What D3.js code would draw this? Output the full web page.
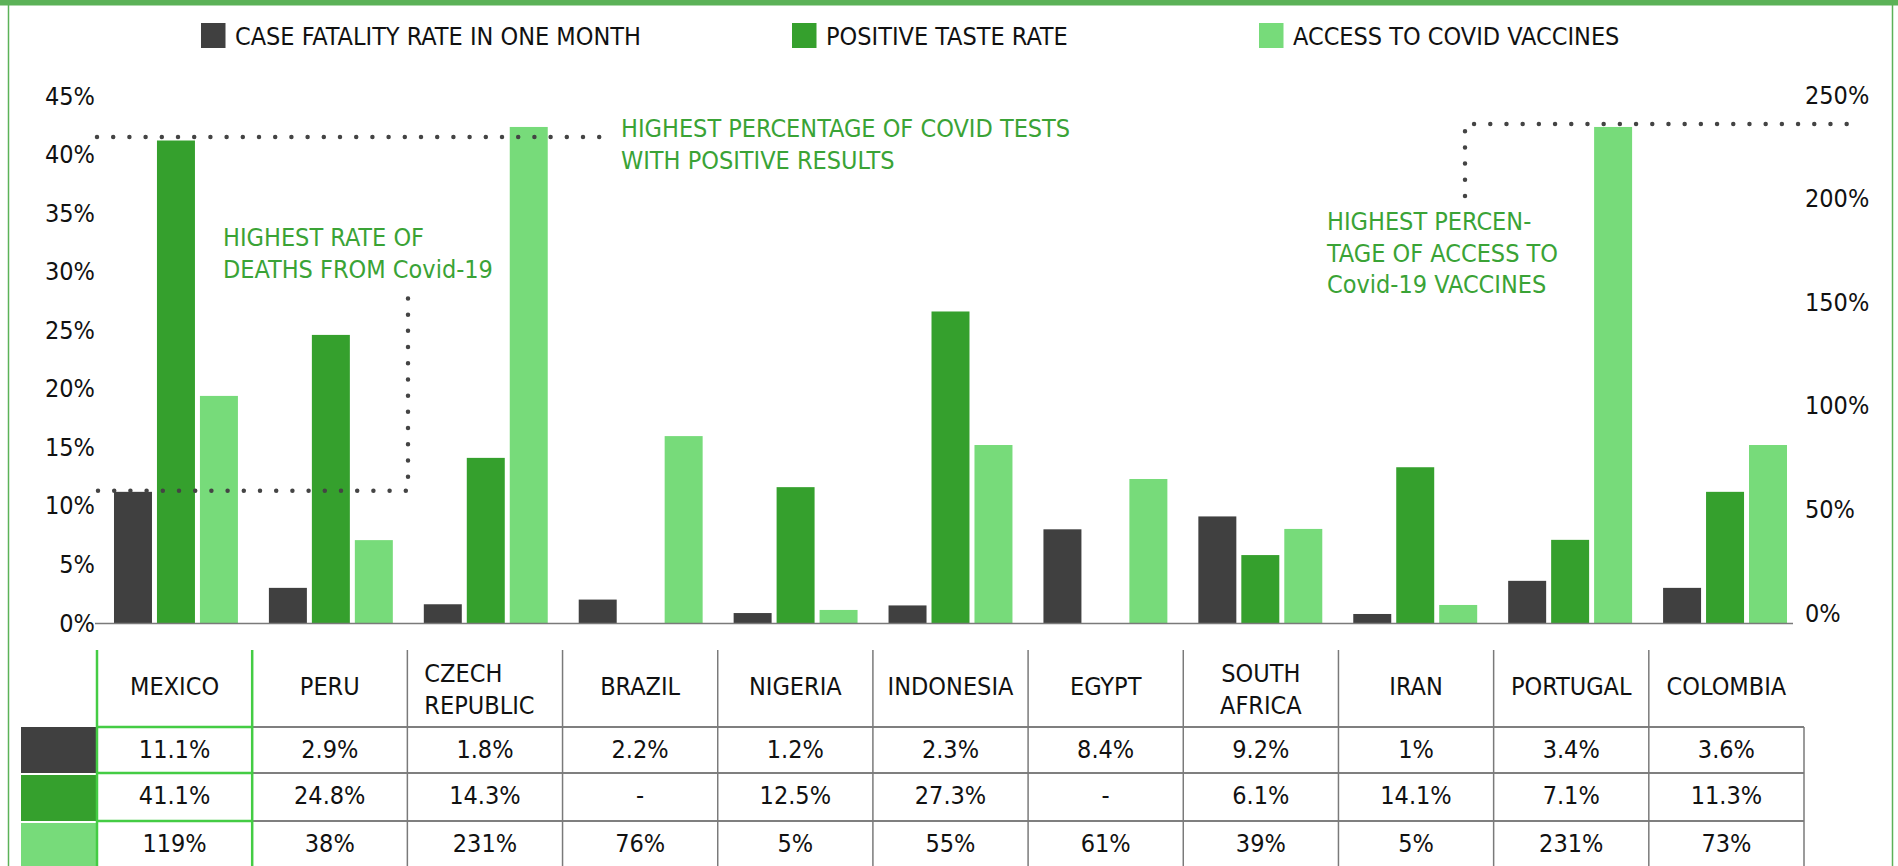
<!DOCTYPE html>
<html>
<head>
<meta charset="utf-8">
<script src="https://cdn.jsdelivr.net/npm/d3@7"></script>
<style>
  body { margin: 0; background: #fff; }
  svg { display: block; }
  text { font-family: 'DejaVu Sans Condensed', 'DejaVu Sans', sans-serif; font-stretch: condensed; fill: #111; }
</style>
</head>
<body>
<script>
// ---- data ----
const countries = ['MEXICO', 'PERU', 'CZECH REPUBLIC', 'BRAZIL', 'NIGERIA', 'INDONESIA', 'EGYPT', 'SOUTH AFRICA', 'IRAN', 'PORTUGAL', 'COLOMBIA']
const seriesNames = ['CASE FATALITY RATE IN ONE MONTH', 'POSITIVE TASTE RATE', 'ACCESS TO COVID VACCINES']

// bar heights (left axis for first two, right axis for vaccines)
const fatality = [11.2, 3.0, 1.6, 2.0, 0.85, 1.5, 8.0, 9.1, 0.77, 3.6, 3.0]
const positive = [41.2, 24.6, 14.1, 0, 11.6, 26.6, 0, 5.8, 13.3, 7.1, 11.2]
const vaccines = [109.6, 40, 239.4, 90.2, 6.3, 85.9, 69.5, 45.4, 8.7, 239.4, 85.9]

// table labels
const fatalityLabels = ['11.1%', '2.9%', '1.8%', '2.2%', '1.2%', '2.3%', '8.4%', '9.2%', '1%', '3.4%', '3.6%']
const positiveLabels = ['41.1%', '24.8%', '14.3%', '-', '12.5%', '27.3%', '-', '6.1%', '14.1%', '7.1%', '11.3%']
const vaccineLabels = ['119%', '38%', '231%', '76%', '5%', '55%', '61%', '39%', '5%', '231%', '73%']

const leftTicks = [0, 5, 10, 15, 20, 25, 30, 35, 40, 45]
const rightTicks = [0, 50, 100, 150, 200, 250]

const notePositive = ['HIGHEST PERCENTAGE OF COVID TESTS', 'WITH POSITIVE RESULTS']
const noteDeaths = ['HIGHEST RATE OF', 'DEATHS FROM Covid-19']
const noteVaccine = ['HIGHEST PERCEN-', 'TAGE OF ACCESS TO', 'Covid-19 VACCINES']

// ---- layout ----
const fullWidth = 1898
const fullHeight = 866
const baseY = 623
const colors = ['#404040', '#35a02d', '#77db7a']
const noteColor = '#3aa336'
const frameColor = '#5cb258'
const highlight = '#44cc44'
const fontSize = 25

const svg = d3.select('body')
  .append('svg')
  .attr('width', fullWidth)
  .attr('height', fullHeight)

// frame
svg.append('rect').attr('x', 0).attr('y', 0).attr('width', fullWidth).attr('height', 5.5).attr('fill', frameColor)
svg.append('line').attr('x1', 8.5).attr('x2', 8.5).attr('y1', 0).attr('y2', fullHeight)
  .attr('stroke', frameColor).attr('stroke-width', 1.5)
svg.append('line').attr('x1', 1892.5).attr('x2', 1892.5).attr('y1', 0).attr('y2', fullHeight)
  .attr('stroke', frameColor).attr('stroke-width', 1.5)

// scales
const x0 = d3.scaleBand()
  .domain(countries)
  .range([98.5, 1802.5])
  .paddingInner(0.2)
  .paddingOuter(0.1)

const x1 = d3.scaleBand()
  .domain([0, 1, 2])
  .range([0, x0.bandwidth()])
  .paddingInner(0.116)

const yLeft = d3.scaleLinear().domain([0, 45]).range([baseY, 96])
const yRight = d3.scaleLinear().domain([0, 250]).range([baseY, 105])

// legend
const legendX = [201, 792, 1259]
const legend = svg.selectAll('.legend')
  .data(seriesNames)
  .enter().append('g')
  .attr('class', 'legend')
  .attr('transform', (d, i) => `translate(${legendX[i]},23)`)
legend.append('rect')
  .attr('width', 24.5)
  .attr('height', 25)
  .attr('fill', (d, i) => colors[i])
legend.append('text')
  .attr('x', 34)
  .attr('y', 22)
  .attr('font-size', fontSize)
  .text(d => d)

// axes
const leftAxis = svg.append('g')
  .attr('transform', 'translate(95,0)')
  .call(d3.axisLeft(yLeft).tickValues(leftTicks).tickFormat(d => d + '%').tickSize(0).tickPadding(0))
leftAxis.select('.domain').remove()
leftAxis.selectAll('text').attr('font-size', fontSize).attr('font-family', null).attr('fill', '#111')

const rightAxis = svg.append('g')
  .attr('transform', 'translate(1805,0)')
  .call(d3.axisRight(yRight).tickValues(rightTicks).tickFormat(d => d + '%').tickSize(0).tickPadding(0))
rightAxis.select('.domain').remove()
rightAxis.selectAll('text').attr('font-size', fontSize).attr('font-family', null).attr('fill', '#111').attr('y', -10)

// bars
const rows = countries.map((c, i) => ({ country: c, values: [fatality[i], positive[i], vaccines[i]] }))

const group = svg.selectAll('.group')
  .data(rows)
  .enter().append('g')
  .attr('class', 'group')
  .attr('transform', d => `translate(${x0(d.country)},0)`)

group.selectAll('rect')
  .data(d => d.values.map((v, k) => ({ k: k, v: v })))
  .enter().append('rect')
  .attr('x', d => x1(d.k))
  .attr('width', x1.bandwidth())
  .attr('y', d => d.k === 2 ? yRight(d.v) : yLeft(d.v))
  .attr('height', d => baseY - (d.k === 2 ? yRight(d.v) : yLeft(d.v)))
  .attr('fill', d => colors[d.k])

// baseline
svg.append('line')
  .attr('x1', 95).attr('x2', 1793)
  .attr('y1', baseY + 0.5).attr('y2', baseY + 0.5)
  .attr('stroke', '#7a7a7a').attr('stroke-width', 1.5)

// dotted annotation leaders
const dotted = (d) => svg.append('path')
  .attr('d', d)
  .attr('fill', 'none')
  .attr('stroke', '#444')
  .attr('stroke-width', 4.5)
  .attr('stroke-linecap', 'round')
  .attr('stroke-dasharray', '0,16.2')

dotted(`M97,${yLeft(41.5)}H608`)
dotted(`M98,${yLeft(11.3)}H408V292`)
dotted(`M1465,196V${yRight(240.8)}H1857`)

function note(lines, x, y) {
  const t = svg.append('text')
    .attr('x', x)
    .attr('y', y)
    .attr('font-size', fontSize)
    .style('fill', noteColor)
  t.selectAll('tspan')
    .data(lines)
    .enter().append('tspan')
    .attr('x', x)
    .attr('dy', (d, i) => i === 0 ? 0 : 31.5)
    .text(d => d)
}
note(notePositive, 621, 137)
note(noteDeaths, 223, 246)
note(noteVaccine, 1327, 230)

// ---- table ----
const xt = d3.scaleBand().domain(countries).range([97, 1804])
const headTop = 650
const rowEdges = [727, 773, 821, fullHeight + 2]
const tableLabels = [fatalityLabels, positiveLabels, vaccineLabels]
const rowBaselines = [758, 804, 852]

// swatches
svg.selectAll('.swatch')
  .data(colors)
  .enter().append('rect')
  .attr('class', 'swatch')
  .attr('x', 21)
  .attr('width', 76)
  .attr('y', (d, i) => rowEdges[i] + (i ? 2 : 0))
  .attr('height', (d, i) => rowEdges[i + 1] - rowEdges[i] - (i ? 2 : 0))
  .attr('fill', d => d)

const grid = svg.append('g')
// horizontal rules
rowEdges.slice(0, 3).forEach(y => {
  grid.append('line').attr('x1', xt(countries[1])).attr('x2', 1804).attr('y1', y).attr('y2', y)
    .attr('stroke', '#555').attr('stroke-width', 1.5)
})
// vertical rules
countries.forEach((c, i) => {
  if (i < 2) return
  grid.append('line').attr('x1', xt(c)).attr('x2', xt(c)).attr('y1', headTop).attr('y2', fullHeight)
    .attr('stroke', '#7a7a7a').attr('stroke-width', 1.5)
})
grid.append('line').attr('x1', 1804).attr('x2', 1804).attr('y1', rowEdges[0]).attr('y2', fullHeight)
  .attr('stroke', '#7a7a7a').attr('stroke-width', 1.5)

// highlighted first column
const hx0 = xt(countries[0])
const hx1 = xt(countries[1])
;[hx0, hx1].forEach(x => {
  grid.append('line').attr('x1', x).attr('x2', x).attr('y1', headTop).attr('y2', fullHeight)
    .attr('stroke', highlight).attr('stroke-width', 2.5)
})
rowEdges.slice(0, 3).forEach(y => {
  grid.append('line').attr('x1', hx0).attr('x2', hx1).attr('y1', y).attr('y2', y)
    .attr('stroke', highlight).attr('stroke-width', 2.5)
})

// header labels (CZECH REPUBLIC is set flush left in the original)
const headX = d => d === 'CZECH REPUBLIC' ? xt(d) + 17 : xt(d) + xt.bandwidth() / 2
const head = svg.selectAll('.head')
  .data(countries)
  .enter().append('text')
  .attr('class', 'head')
  .attr('text-anchor', d => d === 'CZECH REPUBLIC' ? 'start' : 'middle')
  .attr('font-size', fontSize)
  .attr('x', headX)
  .attr('y', d => d.includes(' ') ? 682 : 695)

head.selectAll('tspan')
  .data(d => d.split(' '))
  .enter().append('tspan')
  .attr('x', function () { return d3.select(this.parentNode).attr('x') })
  .attr('dy', (d, i) => i === 0 ? 0 : 32)
  .text(d => d)

// cell values
tableLabels.forEach((labels, r) => {
  svg.selectAll('.cell' + r)
    .data(labels)
    .enter().append('text')
    .attr('class', 'cell' + r)
    .attr('text-anchor', 'middle')
    .attr('font-size', fontSize)
    .attr('x', (d, i) => xt(countries[i]) + xt.bandwidth() / 2)
    .attr('y', rowBaselines[r])
    .text(d => d)
})
</script>
</body>
</html>
